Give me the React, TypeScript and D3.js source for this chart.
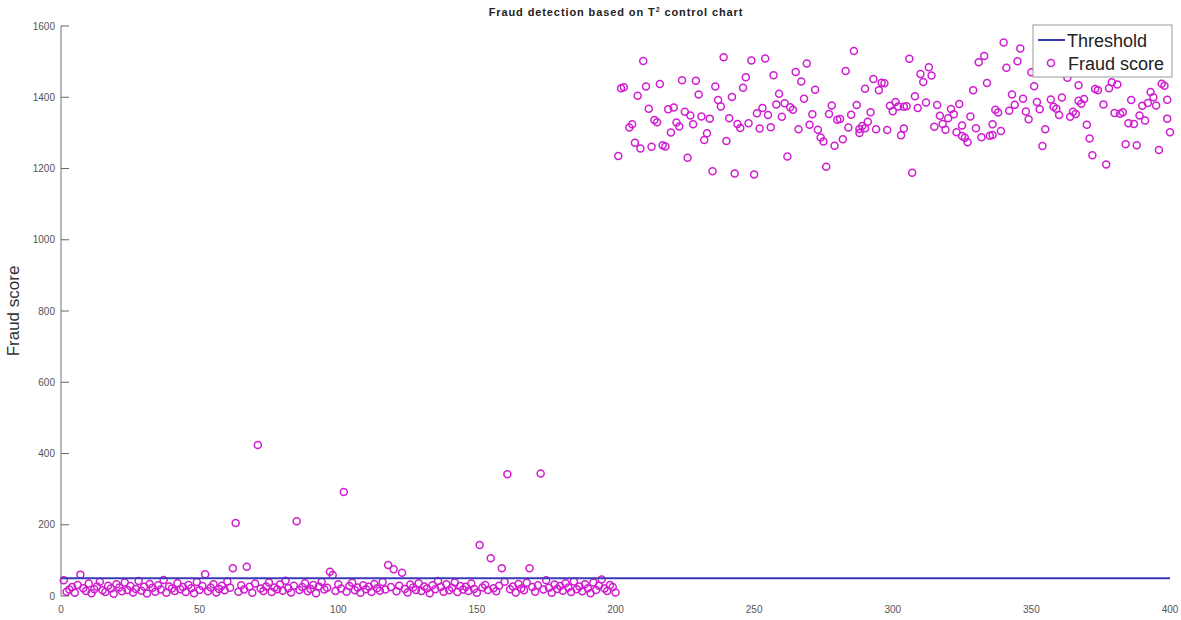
import React from "react";
import * as d3 from "d3";

// samples 1..200 (normal transactions)
const normalScores = [
  44, 12, 18, 25, 9, 31, 60, 22, 14, 35, 8, 19, 27, 40, 16, 11, 29, 21, 6, 33,
  24, 13, 38, 17, 28, 10, 20, 42, 15, 26, 7, 34, 23, 12, 30, 18, 45, 9, 27, 21,
  14, 36, 19, 25, 11, 31, 22, 8, 39, 17, 28, 61, 13, 24, 33, 10, 20, 29, 16, 41,
  23, 78, 205, 12, 30, 18, 82, 26, 9, 35, 424, 21, 14, 27, 38, 11, 24, 19, 32, 15,
  43, 22, 10, 29, 210, 17, 25, 36, 13, 20, 31, 8, 27, 40, 18, 23, 68, 59, 14, 33,
  21, 292, 12, 28, 37, 16, 24, 9, 30, 19, 26, 11, 34, 22, 15, 39, 18, 87, 25, 75,
  13, 29, 65, 20, 10, 32, 24, 17, 36, 14, 27, 21, 8, 30, 19, 42, 25, 12, 33, 16,
  23, 38, 11, 28, 18, 26, 14, 35, 20, 9, 143, 24, 31, 17, 106, 22, 13, 29, 78, 40,
  342, 19, 27, 10, 34, 21, 16, 37, 78, 25, 12, 30, 344, 18, 44, 23, 9, 32, 20, 28,
  15, 36, 24, 11, 41, 19, 27, 13, 33, 22, 8, 38, 17, 29, 46, 21, 14, 31, 25, 10,
];

// fraudulent samples: sample number and score
const fraudIdx = [
  201, 202, 203, 205, 206, 207, 208, 209, 210, 211, 212, 213, 214, 215, 216, 217, 218, 219, 220, 221,
  222, 223, 224, 225, 226, 227, 228, 229, 230, 231, 232, 233, 234, 235, 236, 237, 238, 239, 240, 241,
  242, 243, 244, 245, 246, 247, 248, 249, 250, 251, 252, 253, 254, 255, 256, 257, 258, 259, 260, 261,
  262, 263, 264, 265, 266, 267, 268, 269, 270, 271, 272, 273, 274, 275, 276, 277, 278, 279, 280, 281,
  282, 283, 284, 285, 286, 287, 288, 288, 289, 290, 290, 291, 292, 293, 294, 295, 296, 297, 298, 299,
  300, 301, 302, 303, 304, 304, 305, 306, 307, 308, 309, 310, 311, 312, 313, 314, 315, 316, 317, 318,
  319, 320, 321, 322, 323, 324, 325, 325, 326, 327, 328, 329, 330, 331, 332, 333, 334, 335, 336, 336,
  337, 338, 339, 340, 341, 342, 343, 344, 345, 346, 347, 348, 349, 350, 351, 352, 353, 354, 355, 356,
  357, 358, 359, 360, 361, 362, 363, 364, 365, 366, 367, 367, 368, 369, 370, 371, 372, 373, 374, 375,
  376, 377, 378, 379, 380, 381, 382, 383, 384, 385, 386, 387, 388, 389, 390, 391, 392, 393, 394, 395,
  396, 397, 398, 399, 399, 400,
];
const fraudScores = [
  1235, 1425, 1428, 1315, 1324, 1272, 1404, 1256, 1502, 1430, 1368, 1261, 1336, 1330, 1437, 1265, 1262, 1366, 1301, 1371,
  1329, 1318, 1448, 1359, 1230, 1349, 1324, 1446, 1408, 1346, 1280, 1299, 1340, 1192, 1430, 1392, 1374, 1512, 1277, 1341,
  1401, 1186, 1325, 1314, 1427, 1456, 1327, 1503, 1183, 1355, 1312, 1370, 1509, 1350, 1316, 1462, 1380, 1410, 1345, 1383,
  1234, 1372, 1365, 1471, 1310, 1444, 1396, 1495, 1323, 1352, 1421, 1309, 1287, 1276, 1205, 1353, 1377, 1264, 1337, 1339,
  1282, 1474, 1315, 1351, 1530, 1378, 1311, 1300, 1319, 1424, 1313, 1331, 1358, 1451, 1310, 1420, 1441, 1439, 1308, 1376,
  1361, 1387, 1374, 1293, 1312, 1373, 1375, 1508, 1188, 1403, 1370, 1465, 1443, 1385, 1484, 1461, 1317, 1378, 1348, 1325,
  1309, 1341, 1367, 1352, 1302, 1381, 1321, 1291, 1286, 1274, 1346, 1420, 1313, 1498, 1288, 1516, 1440, 1292, 1294, 1324,
  1365, 1357, 1305, 1554, 1483, 1362, 1408, 1379, 1501, 1537, 1396, 1360, 1338, 1470, 1431, 1387, 1366, 1263, 1310, 1490,
  1394, 1373, 1368, 1350, 1399, 1525, 1455, 1345, 1359, 1353, 1434, 1390, 1382, 1395, 1323, 1284, 1237, 1423, 1420, 1505,
  1380, 1211, 1425, 1442, 1356, 1436, 1354, 1358, 1268, 1327, 1392, 1325, 1265, 1349, 1376, 1335, 1384, 1415, 1400, 1377,
  1252, 1438, 1432, 1393, 1340, 1302,
];

const threshold = 50;
const xTicks = [0, 50, 100, 150, 200, 250, 300, 350, 400];
const yTicks = [0, 200, 400, 600, 800, 1000, 1200, 1400, 1600];

const W = 1181;
const H = 620;
const FONT = "'Liberation Sans', Arial, sans-serif";
const MARKER = "#d01cd0";

export default function App() {
  const x = d3.scaleLinear().domain([0, 400]).range([61, 1170]);
  const y = d3.scaleLinear().domain([0, 1600]).range([596, 26]);

  const points = [
    ...normalScores.map((v, i) => ({ i: i + 1, v })),
    ...fraudScores.map((v, k) => ({ i: fraudIdx[k], v })),
  ];

  return (
    <svg
      width={W}
      height={H}
      style={{ position: "absolute", left: 0, top: 0, background: "#fff" }}
      fontFamily={FONT}
    >
      {/* title */}
      <text
        x={616}
        y={16}
        textAnchor="middle"
        fontSize={11}
        fontWeight="bold"
        letterSpacing={0.9}
        fill="#222"
      >
        Fraud detection based on T
        <tspan dy={-4} fontSize={7}>2</tspan>
        <tspan dy={4}> control chart</tspan>
      </text>

      {/* y axis */}
      <line x1={x(0)} x2={x(0)} y1={y(1600)} y2={y(0)} stroke="#b8b8b8" strokeWidth={2} />
      {yTicks.map((t) => (
        <g key={t}>
          <line x1={x(0)} x2={x(0) + 8} y1={y(t)} y2={y(t)} stroke="#666" strokeWidth={1} />
          <text x={x(0) - 6} y={y(t)} dy="0.35em" textAnchor="end" fontSize={10} fill="#555">
            {t}
          </text>
        </g>
      ))}
      {xTicks.map((t) => (
        <text key={t} x={x(t)} y={613} textAnchor="middle" fontSize={10} fill="#555">
          {t}
        </text>
      ))}
      <text
        transform={`translate(19,${y(800)}) rotate(-90)`}
        textAnchor="middle"
        fontSize={17}
        fill="#333"
      >
        Fraud score
      </text>

      {/* scores */}
      {points.map((p, k) => (
        <circle
          key={k}
          cx={x(p.i)}
          cy={y(p.v)}
          r={3.5}
          fill="none"
          stroke={MARKER}
          strokeWidth={1.5}
        />
      ))}

      {/* threshold */}
      <line
        x1={x(0)}
        x2={x(400)}
        y1={y(threshold)}
        y2={y(threshold)}
        stroke="#3a3ab4"
        strokeWidth={2}
      />

      {/* legend */}
      <g>
        <rect x={1033} y={25} width={139} height={52} fill="#fff" stroke="#999" strokeWidth={1} />
        <line x1={1038} x2={1065} y1={40} y2={40} stroke="#3a3ab4" strokeWidth={2} />
        <text x={1067} y={46.5} fontSize={18} fill="#222">
          Threshold
        </text>
        <circle cx={1051} cy={63} r={3.5} fill="none" stroke={MARKER} strokeWidth={1.5} />
        <text x={1068} y={69.5} fontSize={18} fill="#222">
          Fraud score
        </text>
      </g>
    </svg>
  );
}
